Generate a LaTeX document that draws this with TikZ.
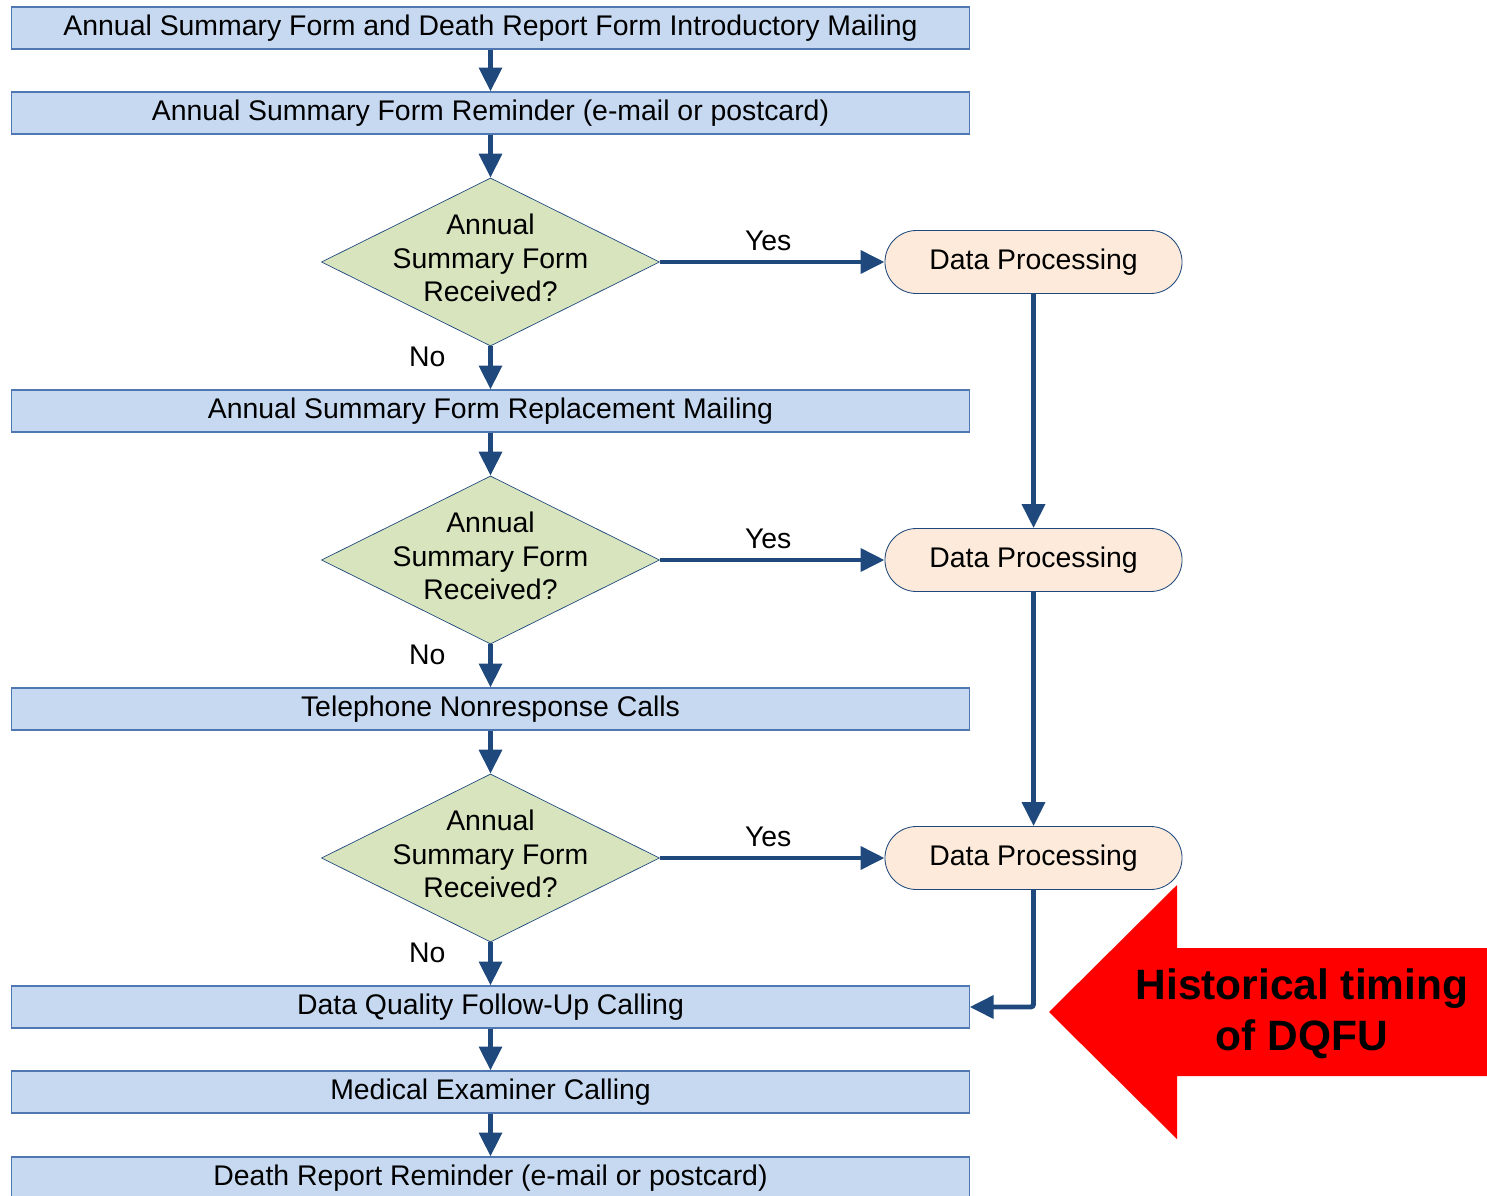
\documentclass[tikz,border=0pt]{standalone}
\usepackage{fontspec}
\setmainfont{Liberation Sans}
\usetikzlibrary{arrows.meta,shapes.geometric,shapes.misc}

\definecolor{flowblue}{RGB}{31,73,125}
\definecolor{boxfill}{RGB}{198,217,241}
\definecolor{boxline}{RGB}{79,119,178}
\definecolor{askfill}{RGB}{215,228,189}
\definecolor{procfill}{RGB}{253,234,218}

\tikzset{
  step box/.style={draw=boxline, line width=0.8pt, fill=boxfill, minimum width=23.925cm,
    minimum height=1.05cm, inner sep=0pt, font=\fontsize{20.2}{24}\selectfont},
  ask/.style={diamond, draw=flowblue, line width=0.5pt, fill=askfill, minimum width=8.45cm,
    minimum height=4.2cm, inner sep=0pt},
  asktext/.style={align=center, yshift=0.1cm, font=\fontsize{20.2}{23.8}\selectfont},
  proc/.style={rounded rectangle, draw=flowblue, line width=0.6pt, fill=procfill,
    minimum width=7.425cm, minimum height=1.575cm, inner sep=0pt, font=\fontsize{20.2}{24}\selectfont},
  flow/.style={draw=flowblue, line width=3.5pt, -{Triangle[length=17pt,width=16pt]}},
  tag/.style={font=\fontsize{20.2}{24}\selectfont}
}

\begin{document}
\begin{tikzpicture}[auto, x=0.025cm, y=-0.025cm]
\useasboundingbox (0,0) rectangle (1487,1196);
\node[step box] (b1) at (490.5,28) {Annual Summary Form and Death Report Form Introductory Mailing};
\node[step box] (b2) at (490.5,113) {Annual Summary Form Reminder (e-mail or postcard)};
\node[ask] (q1) at (490.5,262) {};
\node[asktext] at (q1) {Annual\\Summary Form\\Received?};
\node[step box] (b3) at (490.5,411) {Annual Summary Form Replacement Mailing};
\node[ask] (q2) at (490.5,560) {};
\node[asktext] at (q2) {Annual\\Summary Form\\Received?};
\node[step box] (b4) at (490.5,709) {Telephone Nonresponse Calls};
\node[ask] (q3) at (490.5,858) {};
\node[asktext] at (q3) {Annual\\Summary Form\\Received?};
\node[step box] (b5) at (490.5,1007) {Data Quality Follow-Up Calling};
\node[step box] (b6) at (490.5,1092) {Medical Examiner Calling};
\node[step box] (b7) at (490.5,1178) {Death Report Reminder (e-mail or postcard)};
\node[proc] (dp1) at (1033.5,262) {Data Processing};
\node[proc] (dp2) at (1033.5,560) {Data Processing};
\node[proc] (dp3) at (1033.5,858) {Data Processing};

\draw[flow] (b1) -- (b2);
\draw[flow] (b2) -- (q1);
\draw[flow] (q1) to node[tag, pos=0.25, swap, xshift=-0.95cm] {No} (b3);
\draw[flow] (b3) -- (q2);
\draw[flow] (q2) to node[tag, pos=0.25, swap, xshift=-0.95cm] {No} (b4);
\draw[flow] (b4) -- (q3);
\draw[flow] (q3) to node[tag, pos=0.25, swap, xshift=-0.95cm] {No} (b5);
\draw[flow] (b5) -- (b6);
\draw[flow] (b6) -- (b7);
\draw[flow] (q1) to node[tag, xshift=-0.1cm, yshift=0.1cm] {Yes} (dp1);
\draw[flow] (q2) to node[tag, xshift=-0.1cm, yshift=0.1cm] {Yes} (dp2);
\draw[flow] (q3) to node[tag, xshift=-0.1cm, yshift=0.1cm] {Yes} (dp3);
\draw[flow] (dp1) -- (dp2);
\draw[flow] (dp2) -- (dp3);
\draw[flow, rounded corners=2pt] (dp3) |- (b5);

% callout
\fill[red] (1049,1012) -- (1177,885) -- (1177,948) -- (1487,948) -- (1487,1076)
  -- (1177,1076) -- (1177,1139) -- cycle;
\node[align=center, font=\fontsize{30.2}{36}\selectfont\bfseries] (hist) at (1302,1014)
  {Historical timing\\of DQFU};
\end{tikzpicture}
\end{document}
